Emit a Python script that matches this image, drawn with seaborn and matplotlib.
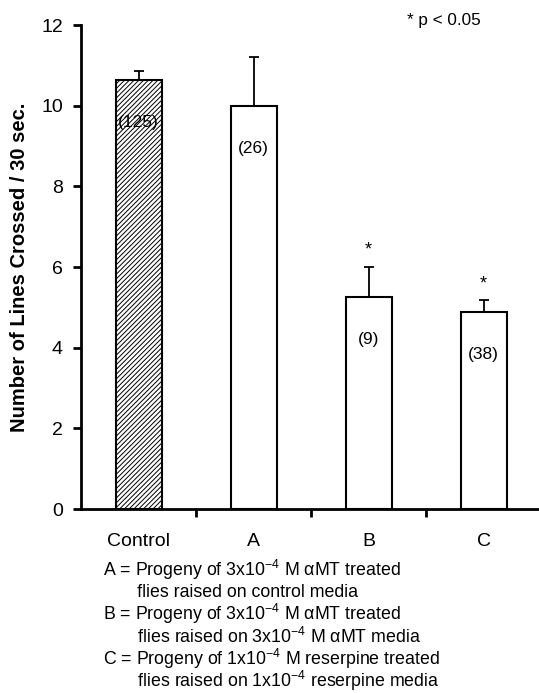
import numpy as np
import pandas as pd
import matplotlib
matplotlib.use("Agg")
import matplotlib.pyplot as plt
import seaborn as sns

# data
groups = ["Control", "A", "B", "C"]
means = [10.63, 10.0, 5.25, 4.88]
sem_up = [0.23, 1.2, 0.75, 0.30]
n_flies = [125, 26, 9, 38]
significant = [False, False, True, True]

legend_lines = [
    "A = Progeny of 3x10$^{-4}$ M αMT treated",
    "       flies raised on control media",
    "B = Progeny of 3x10$^{-4}$ M αMT treated",
    "       flies raised on 3x10$^{-4}$ M αMT media",
    "C = Progeny of 1x10$^{-4}$ M reserpine treated",
    "       flies raised on 1x10$^{-4}$ reserpine media",
]

sns.set_style("ticks")
plt.rcParams["font.family"] = ["Liberation Sans", "DejaVu Sans"]
plt.rcParams["mathtext.fontset"] = "custom"
plt.rcParams["mathtext.rm"] = "Liberation Sans"
plt.rcParams["mathtext.it"] = "Liberation Sans:italic"
plt.rcParams["hatch.linewidth"] = 0.7
plt.rcParams["text.color"] = "black"
plt.rcParams["axes.labelcolor"] = "black"
plt.rcParams["xtick.color"] = "black"
plt.rcParams["ytick.color"] = "black"
plt.rcParams["axes.edgecolor"] = "black"

df = pd.DataFrame({"group": groups, "mean": means})

fig = plt.figure(figsize=(5.39, 6.93), dpi=100)
ax = fig.add_axes([81 / 539, 184 / 693, 460 / 539, 484 / 693])

sns.barplot(data=df, x="group", y="mean", color="white", edgecolor="black",
            linewidth=1.5, width=0.4, errorbar=None, ax=ax)
for patch in ax.patches:
    patch.set_facecolor("white")
ax.patches[0].set_hatch("///////")

x = np.arange(len(groups))
ax.errorbar(x, means, yerr=[np.zeros(len(means)), sem_up], fmt="none",
            ecolor="black", elinewidth=1.3, capsize=3.6, capthick=1.3)

for i, (m, s, n, sig) in enumerate(zip(means, sem_up, n_flies, significant)):
    ax.text(i, m - 1.05, f"({n})", ha="center", va="center", fontsize=12.5)
    if sig:
        ax.text(i, m + s + 0.2, "*", ha="center", va="bottom", fontsize=13)

ax.set_xlim(-0.5, 3.5)
ax.set_ylim(0, 12)
ax.set_yticks(range(0, 13, 2))
ax.set_xticks([0.5, 1.5, 2.5])
ax.set_xticklabels([])
ax.tick_params(axis="both", direction="out", length=6, width=2,
               labelsize=14, pad=7)
for i, g in enumerate(groups):
    ax.text(i, -0.6, g, ha="center", va="top", fontsize=14)

ax.set_xlabel("")
ax.set_ylabel("Number of Lines Crossed / 30 sec.", fontsize=14.5,
              fontweight="bold", labelpad=9)
sns.despine(ax=ax)
for side in ["left", "bottom"]:
    ax.spines[side].set_linewidth(2)

fig.text(407 / 539, 1 - 20 / 693, "* p < 0.05", fontsize=12.3, va="center")

y0 = 570
for k, line in enumerate(legend_lines):
    fig.text(103 / 539, 1 - (y0 + k * 22.2) / 693, line, fontsize=12.8,
             va="center")

fig.savefig("out.png", dpi=100)
